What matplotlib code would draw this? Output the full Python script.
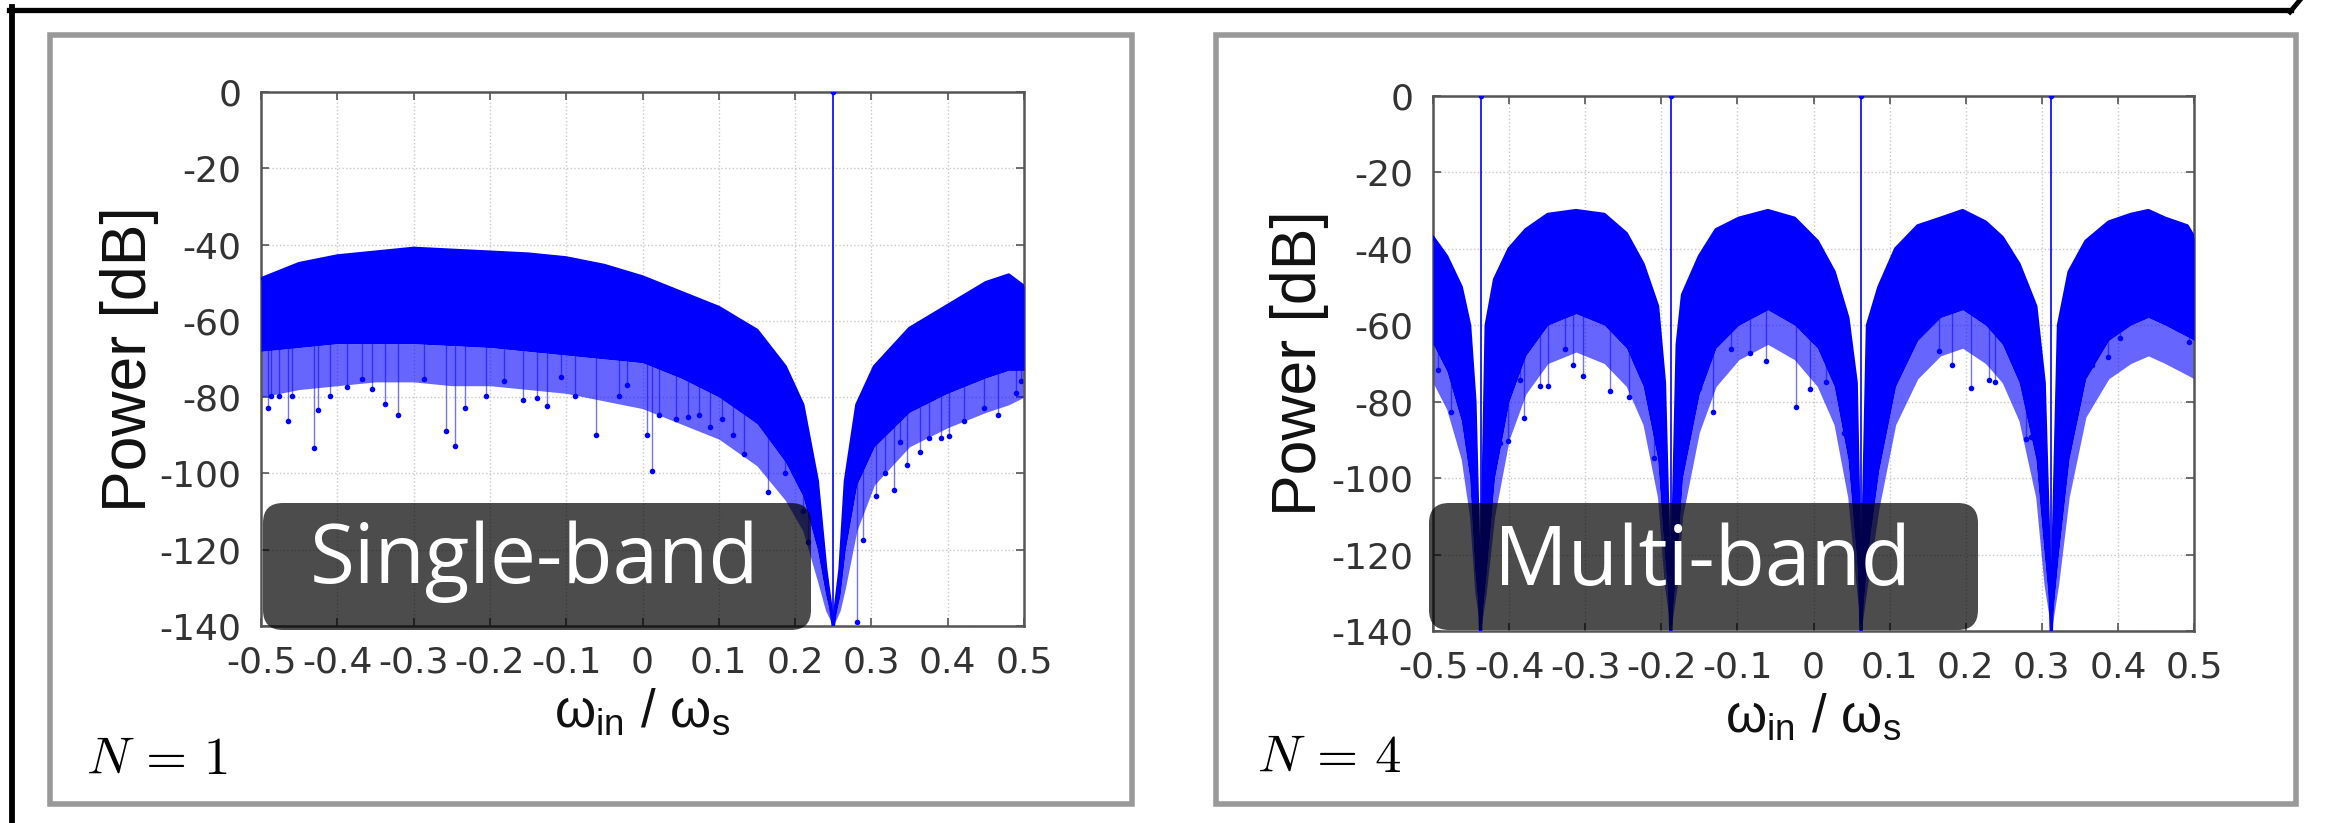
import numpy as np
import matplotlib
matplotlib.use("Agg")
import matplotlib.pyplot as plt
from matplotlib.patches import Rectangle, FancyBboxPatch
from matplotlib.lines import Line2D

plt.rcParams['font.family'] = ['Liberation Sans', 'DejaVu Sans']
plt.rcParams['axes.unicode_minus'] = False
plt.rcParams['mathtext.fontset'] = 'custom'
plt.rcParams['mathtext.rm'] = 'Liberation Sans'
plt.rcParams['mathtext.it'] = 'Liberation Sans:italic'

BLUE = '#0000ff'

# ---- single-band spectrum (N = 1) ----
single_f = [-0.5, -0.45, -0.4, -0.35, -0.3, -0.25, -0.2, -0.15, -0.1, -0.05, 0.0,
            0.05, 0.1, 0.15, 0.187, 0.21, 0.229, 0.24, 0.25, 0.259, 0.266, 0.281,
            0.304, 0.35, 0.4, 0.45, 0.48, 0.5]
single_top = [-49, -45, -43, -42, -41, -41.5, -42, -42.5, -43.5, -45.5, -48.5,
              -52.5, -56.5, -62.5, -72, -82, -102, -125, -140, -125, -102, -82,
              -72, -62, -56, -50, -48, -51]
single_bot = [-68, -67, -66, -66, -66, -66.5, -67, -68, -69, -70, -71,
              -75, -80, -87, -97, -106, -120, -132, -140, -132, -120, -103,
              -93, -84, -79, -75, -73, -73]
single_light = [-80, -78, -77, -76, -76, -77, -77, -78, -79, -81, -83,
                -87, -91, -98, -107, -115, -128, -136, -140, -136, -130, -115,
                -103, -93, -88, -84, -82, -80]
single_spike_f = [-0.491, -0.487, -0.476, -0.465, -0.459, -0.431, -0.425, -0.410,
                  -0.387, -0.367, -0.355, -0.338, -0.321, -0.287, -0.257, -0.246,
                  -0.233, -0.205, -0.182, -0.156, -0.138, -0.125, -0.107, -0.088,
                  -0.061, -0.031, -0.020, 0.006, 0.012, 0.021, 0.044, 0.059, 0.074,
                  0.089, 0.104, 0.119, 0.133, 0.165, 0.187, 0.210, 0.217,
                  0.281, 0.289, 0.306, 0.318, 0.330, 0.338, 0.347, 0.364, 0.376,
                  0.391, 0.402, 0.421, 0.447, 0.466, 0.489, 0.496]
single_spike_db = [-82.8, -79.8, -79.8, -86.3, -79.8, -93.3, -83.3, -79.8,
                   -77.3, -75.3, -77.8, -81.8, -84.8, -75.3, -88.8, -92.8,
                   -82.8, -79.8, -75.8, -80.8, -80.3, -82.3, -74.8, -79.8,
                   -89.8, -79.8, -76.8, -89.8, -99.4, -84.8, -85.8, -85.3, -84.8,
                   -87.8, -85.8, -89.8, -94.8, -104.9, -99.9, -109.9, -117.9,
                   -139, -117.4, -105.9, -99.9, -104.4, -91.8, -97.9, -94.3, -90.8,
                   -90.8, -90.3, -86.3, -82.8, -84.8, -78.8, -75.8]
single_carriers = [0.25]

# ---- multi-band spectrum (N = 4) ----
multi_f = [-0.5, -0.482, -0.463, -0.452, -0.445, -0.4375, -0.43, -0.419, -0.40,
           -0.378, -0.349, -0.312, -0.275, -0.246, -0.224, -0.205, -0.196, -0.1875,
           -0.179, -0.172, -0.15, -0.128, -0.098, -0.06, -0.025, 0.005, 0.027,
           0.045, 0.056, 0.0625, 0.071, 0.086, 0.108, 0.137, 0.167, 0.196, 0.226,
           0.248, 0.27, 0.292, 0.303, 0.3125, 0.322, 0.336, 0.358, 0.388, 0.417,
           0.44, 0.462, 0.491, 0.5]
multi_top = [-37, -42, -50, -60, -80, -140, -60, -48, -40,
             -35, -31, -30, -31, -36, -44, -55, -75, -140,
             -65, -52, -42, -35, -32, -30, -32, -38, -46,
             -58, -75, -140, -60, -50, -40, -34, -32, -30, -33,
             -37, -44, -55, -75, -140, -60, -46, -38, -33, -31,
             -30, -32, -34, -37]
multi_bot = [-65, -72, -85, -100, -125, -140, -125, -100, -80,
             -68, -60, -57, -60, -66, -76, -95, -120, -140,
             -120, -100, -78, -66, -60, -56, -60, -66, -76,
             -95, -120, -140, -120, -98, -76, -64, -58, -56, -60,
             -65, -75, -95, -120, -140, -120, -95, -74, -64, -60,
             -58, -60, -63, -64]
multi_light = [-75, -82, -95, -110, -130, -140, -130, -110, -90,
               -78, -70, -67, -70, -76, -86, -105, -128, -140,
               -128, -110, -88, -76, -69, -65, -69, -76, -86,
               -105, -128, -140, -128, -108, -86, -74, -68, -66, -70,
               -75, -85, -105, -128, -140, -128, -105, -84, -74, -70,
               -68, -70, -73, -74]
multi_spike_f = [-0.493, -0.476, -0.423, -0.412, -0.402, -0.380, -0.386, -0.360,
                 -0.349, -0.327, -0.316, -0.303, -0.268, -0.242, -0.224, -0.209,
                 -0.202, -0.150, -0.132, -0.109, -0.084, -0.062, -0.023, -0.004,
                 0.016, 0.034, 0.040, 0.078, 0.097, 0.165, 0.182, 0.207, 0.230,
                 0.238, 0.279, 0.286, 0.344, 0.366, 0.387, 0.403, 0.493]
multi_spike_db = [-71.8, -82.8, -90.3, -90.8, -90.3, -84.3, -74.3, -75.8,
                  -75.8, -66.3, -70.3, -73.3, -77.3, -78.8, -71.3, -94.8,
                  -93.3, -76.3, -82.8, -66.3, -67.3, -69.3, -81.3, -76.8,
                  -74.8, -76.3, -88.3, -87.3, -77.8, -66.8, -70.3, -76.3, -74.3,
                  -74.8, -89.8, -89.3, -81.3, -70.3, -68.3, -63.3, -64.3]
multi_carriers = [-0.4375, -0.1875, 0.0625, 0.3125]

x_ticks = [-0.5, -0.4, -0.3, -0.2, -0.1, 0, 0.1, 0.2, 0.3, 0.4, 0.5]
x_ticklabels = ['-0.5', '-0.4', '-0.3', '-0.2', '-0.1', '0', '0.1', '0.2', '0.3', '0.4', '0.5']
y_ticks = [0, -20, -40, -60, -80, -100, -120, -140]

W, H = 2325, 823
fig = plt.figure(figsize=(W / 100, H / 100), dpi=100)


def draw_panel(rect, f, top, bot, light, sp_f, sp_db, carriers, ylab_x):
    ax = fig.add_axes(rect)
    ax.set_xlim(-0.5, 0.5)
    ax.set_ylim(-140, 0)
    ax.grid(True, ls=':', color='#c8c8c8', lw=1.0)
    ax.set_axisbelow(True)

    # spikes below the dense band
    sp_top = np.interp(sp_f, f, top)
    ax.vlines(sp_f, sp_db, sp_top, color=BLUE, lw=1.0, alpha=0.55, zorder=2)
    ax.plot(sp_f, sp_db, 'o', ms=3, color=BLUE, zorder=2)
    # sparse part of the noise band
    ax.fill_between(f, light, bot, color=BLUE, alpha=0.6, lw=0, zorder=2.5)
    # dense noise band
    ax.fill_between(f, bot, top, color=BLUE, lw=0, zorder=3)
    ax.plot(f, top, color=BLUE, lw=2.5, zorder=3)
    # carriers
    ax.vlines(carriers, -140, 0, color=BLUE, lw=1.2, zorder=4)
    ax.plot(carriers, [0] * len(carriers), 'o', ms=3, color=BLUE, zorder=4)

    ax.set_xticks(x_ticks)
    ax.set_xticklabels(x_ticklabels)
    ax.set_yticks(y_ticks)
    ax.tick_params(direction='in', length=6, width=1.2, color='#555555',
                   top=True, right=True, labelsize=26, pad=14,
                   labelcolor='#333333')
    for lab in ax.get_xticklabels() + ax.get_yticklabels():
        lab.set_family('DejaVu Sans')
    for s in ax.spines.values():
        s.set_color('#555555')
        s.set_linewidth(1.8)

    ax.text(ylab_x, 0.5, 'Power [dB]', rotation=90, ha='center', va='center',
            fontsize=45, color='#111111', transform=ax.transAxes)
    ax.text(0.5, -0.188, r'ω$_{\mathrm{in}}$ / ω$_{\mathrm{s}}$', ha='center',
            va='baseline', fontsize=38, color='#111111', transform=ax.transAxes)
    return ax


ax1 = draw_panel([261 / W, 1 - 626 / H, 763 / W, 534 / H], single_f, single_top,
                 single_bot, single_light, single_spike_f, single_spike_db,
                 single_carriers, -0.172)
ax2 = draw_panel([1433 / W, 1 - 631 / H, 761 / W, 535 / H], multi_f, multi_top,
                 multi_bot, multi_light, multi_spike_f, multi_spike_db,
                 multi_carriers, -0.176)

# gray panel frames
for x0, x1 in [(49.5, 1132), (1215.5, 2295.5)]:
    fig.add_artist(Rectangle((x0 / W, 1 - 803.5 / H), (x1 - x0) / W, 769 / H,
                             transform=fig.transFigure, fill=False,
                             edgecolor='#999999', lw=4))

# black outer frame (top and left edges)
fig.add_artist(Line2D([9 / W, 2291 / W], [1 - 9.5 / H, 1 - 9.5 / H],
                      transform=fig.transFigure, color='black', lw=3.8))
fig.add_artist(Line2D([12 / W, 12 / W], [1 - 7 / H, 0], transform=fig.transFigure,
                      color='black', lw=4.2))
fig.add_artist(Line2D([2290 / W, 2300 / W], [1 - 12 / H, 1.0],
                      transform=fig.transFigure, color='black', lw=3.5))

# dark label boxes
for (bx0, bx1), label, cx, base in [((263, 811), 'Single-band', 535, 583),
                                     ((1429, 1978), 'Multi-band', 1702, 585)]:
    box = FancyBboxPatch((bx0 / 100, (H - 630) / 100), (bx1 - bx0) / 100, 1.27,
                         boxstyle='round,pad=0,rounding_size=0.2',
                         transform=fig.dpi_scale_trans, facecolor='black',
                         alpha=0.7, edgecolor='none', zorder=10)
    fig.add_artist(box)
    fig.text(cx / W, 1 - base / H, label, ha='center', va='baseline',
             fontsize=59, color='white', family=['Open Sans', 'DejaVu Sans'],
             zorder=11)

fig.text(86 / W, 1 - 774 / H, r'$N\,=\,1$', fontsize=38, math_fontfamily='cm',
         va='baseline')
fig.text(1257 / W, 1 - 772 / H, r'$N\,=\,4$', fontsize=38, math_fontfamily='cm',
         va='baseline')

fig.savefig('out.png', dpi=100)
